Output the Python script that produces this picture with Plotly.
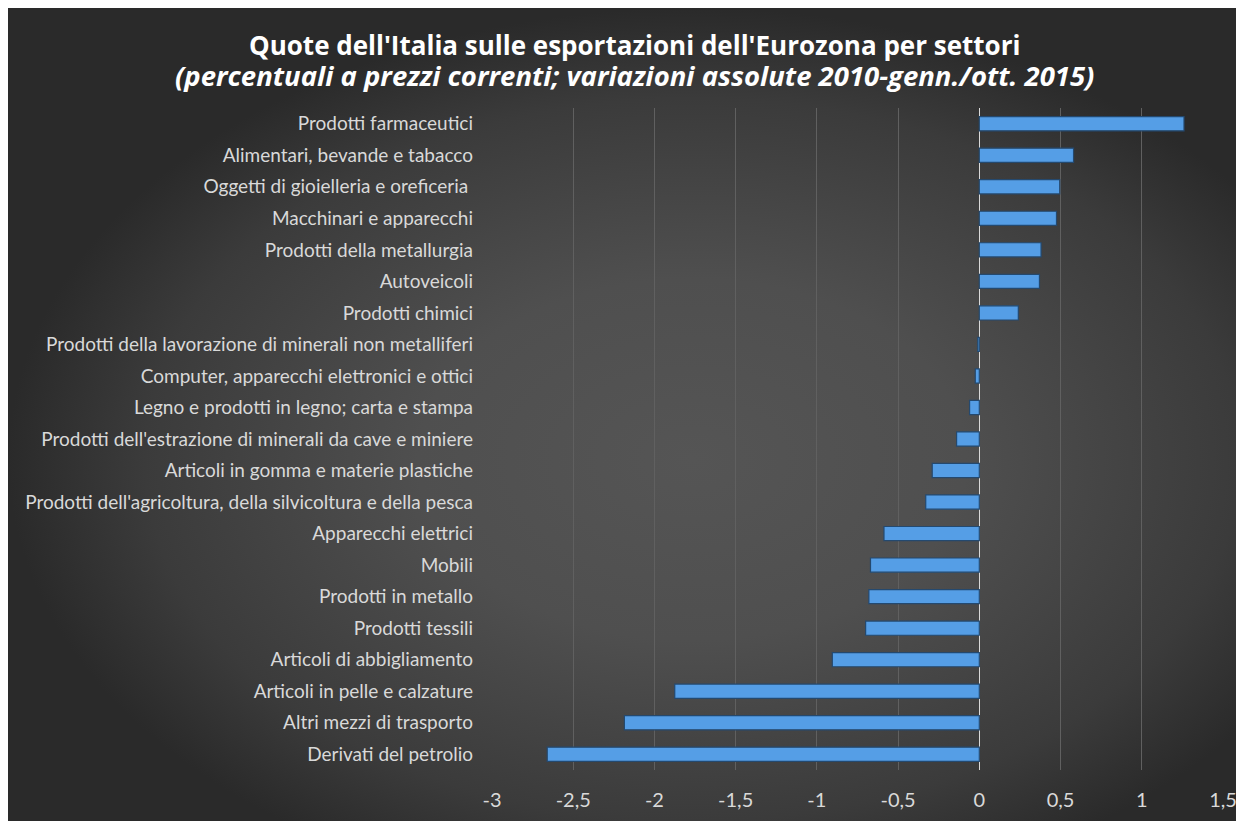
import plotly.graph_objects as go

categories = [
    "Prodotti farmaceutici",
    "Alimentari, bevande e tabacco",
    "Oggetti di gioielleria e oreficeria ",
    "Macchinari e apparecchi",
    "Prodotti della metallurgia",
    "Autoveicoli",
    "Prodotti chimici",
    "Prodotti della lavorazione di minerali non metalliferi",
    "Computer, apparecchi elettronici e ottici",
    "Legno e prodotti in legno; carta e stampa",
    "Prodotti dell'estrazione di minerali da cave e miniere",
    "Articoli in gomma e materie plastiche",
    "Prodotti dell'agricoltura, della silvicoltura e della pesca",
    "Apparecchi elettrici",
    "Mobili",
    "Prodotti in metallo",
    "Prodotti tessili",
    "Articoli di abbigliamento",
    "Articoli in pelle e calzature",
    "Altri mezzi di trasporto",
    "Derivati del petrolio",
]
values = [1.26, 0.58, 0.495, 0.475, 0.38, 0.37, 0.24, -0.01, -0.025, -0.06,
          -0.14, -0.29, -0.33, -0.587, -0.67, -0.68, -0.70, -0.905, -1.875,
          -2.185, -2.66]

tick_values = [-3, -2.5, -2, -1.5, -1, -0.5, 0, 0.5, 1, 1.5]
tick_labels = ["-3", "-2,5", "-2", "-1,5", "-1", "-0,5", "0", "0,5", "1", "1,5"]

title_line1 = "Quote dell'Italia sulle esportazioni dell'Eurozona per settori"
title_line2 = "(percentuali a prezzi correnti; variazioni assolute 2010-genn./ott. 2015)"

W, H = 1244, 821
FONT = "Lato"

fig = go.Figure()

# background panel with radial gradient (on its own full-size hidden axes)
fig.add_trace(go.Scatter(
    x=[0, 1.1, 1.1, 0], y=[-0.1, -0.1, 1, 1],
    mode="lines", line=dict(width=0), fill="toself",
    fillgradient=dict(type="radial",
                      colorscale=[[0, "#555555"], [0.4, "#4f4f4f"],
                                  [0.8, "#3b3b3b"], [1, "#2a2a2a"]]),
    hoverinfo="skip", showlegend=False, xaxis="x", yaxis="y",
))

fig.add_trace(go.Bar(
    x=values, y=categories, orientation="h",
    marker=dict(color="#559ee6", line=dict(color="#24496f", width=1.2)),
    width=0.45, showlegend=False, xaxis="x2", yaxis="y2",
))

title_text = (
    "<b><span style='font-size:26px'>" + title_line1 + "</span></b><br>"
    "<b><i><span style='font-size:27.5px'>" + title_line2 + "</span></i></b>"
)

fig.update_layout(
    width=W, height=H,
    margin=dict(l=0, r=0, t=0, b=0),
    paper_bgcolor="#2a2a2a",
    plot_bgcolor="rgba(0,0,0,0)",
    xaxis=dict(domain=[0, 1], range=[0, 1], visible=False, fixedrange=True),
    yaxis=dict(domain=[0, 1], range=[0, 1], visible=False, fixedrange=True),
    xaxis2=dict(
        domain=[484 / W, 1215 / W], anchor="y2",
        range=[-3, 1.5], tickvals=tick_values, ticktext=tick_labels,
        showgrid=True, gridcolor="#606060", gridwidth=1,
        zeroline=True, zerolinecolor="#d9d9d9", zerolinewidth=1,
        showline=False, ticks="",
        tickfont=dict(family=FONT, size=20, color="#d9d9d9"),
        ticklabelstandoff=16, automargin=False,
    ),
    yaxis2=dict(
        domain=[1 - 762 / H, 1 - 100 / H], anchor="x2",
        autorange="reversed", showgrid=False, showline=False, ticks="",
        tickfont=dict(family=FONT, size=19, color="#d9d9d9"),
        ticklabelstandoff=18, automargin=False,
    ),
    annotations=[
        dict(text=title_text, x=626 / W, y=1 - 52 / H,
             xref="paper", yref="paper", showarrow=False, xanchor="center", yanchor="middle",
             align="center",
             font=dict(family="Open Sans", size=24, color="white")),
    ],
)

fig.write_html(
    "out.html",
    post_script="document.body.style.overflow='hidden';"
                "document.documentElement.style.overflow='hidden';",
)
